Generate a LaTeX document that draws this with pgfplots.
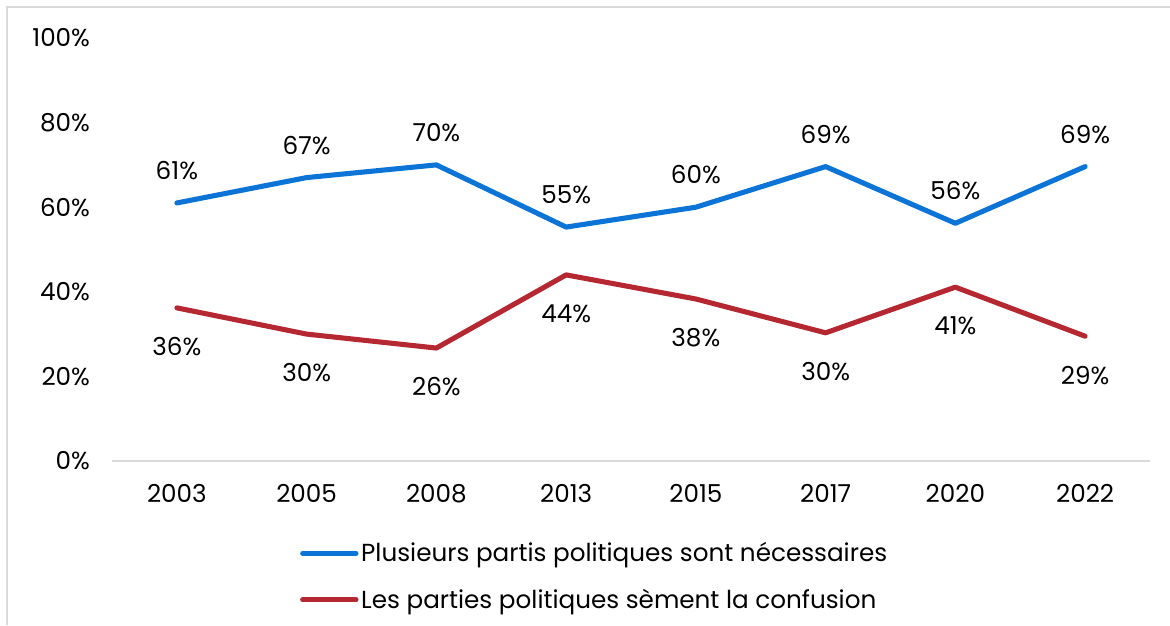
\documentclass[border=0pt]{standalone}
\usepackage{pgfplots}
\pgfplotsset{compat=1.18}
\usepackage{fontspec}
\setmainfont{Poppins}
\definecolor{cblue}{RGB}{11,116,214}
\definecolor{cred}{RGB}{181,40,50}
\definecolor{frame}{RGB}{217,217,217}
\begin{document}
\begin{tikzpicture}[x=1pt,y=1pt]
\useasboundingbox (0,0) rectangle (877.5,468.75);
\draw[frame,line width=1.5pt] (5.2,0) -- (5.2,463.5) -- (877.5,463.5);
\begin{axis}[
  at={(84pt,123pt)}, anchor=south west,
  scale only axis, width=778.5pt, height=317.25pt,
  xmin=-0.5, xmax=7.5, ymin=0, ymax=100,
  xtick={0,...,7},
  xticklabels={2003,2005,2008,2013,2015,2017,2020,2022},
  ytick={0,20,40,60,80,100},
  yticklabel={\pgfmathprintnumber{\tick}\%},
  /pgf/number format/assume math mode=true,
  tick style={draw=none},
  axis y line*=left,
  y axis line style={draw=none},
  axis x line*=bottom,
  x axis line style={frame,line width=1.2pt,-},
  yticklabel style={font=\fontsize{18.5}{20}\selectfont, anchor=east, xshift=-13pt},
  xticklabel style={font=\fontsize{18.5}{20}\selectfont, yshift=-14pt},
  clip=false,
  nodes near coords={\pgfplotspointmeta\%},
  point meta=explicit symbolic,
  every node near coord/.append style={font=\fontsize{18.5}{20}\selectfont, text=black},
  legend style={draw=none, fill=none, at={(0.181,-0.186)}, anchor=north west,
    font=\fontsize{18.5}{20}\selectfont, row sep=15pt, inner sep=0pt},
  legend cell align=left,
  legend image code/.code={\draw[line width=3.8pt, line cap=round] (0pt,0pt) -- (40pt,0pt);},
]
\addplot[cblue, line width=3.8pt, line join=round, line cap=round, mark=none,
  every node near coord/.append style={anchor=south, yshift=12pt}]
  table[meta=l] {
x y l
0 61.0 61
1 67.0 67
2 70.0 70
3 55.3 55
4 60.0 60
5 69.6 69
6 56.2 56
7 69.6 69
};
\addlegendentry{Plusieurs partis politiques sont nécessaires}
\addplot[cred, line width=3.8pt, line join=round, line cap=round, mark=none,
  every node near coord/.append style={anchor=north, yshift=-17pt}]
  table[meta=l] {
x y l
0 36.2 36
1 30.0 30
2 26.7 26
3 44.0 44
4 38.3 38
5 30.3 30
6 41.1 41
7 29.5 29
};
\addlegendentry{Les parties politiques sèment la confusion}
\end{axis}
\end{tikzpicture}
\end{document}
